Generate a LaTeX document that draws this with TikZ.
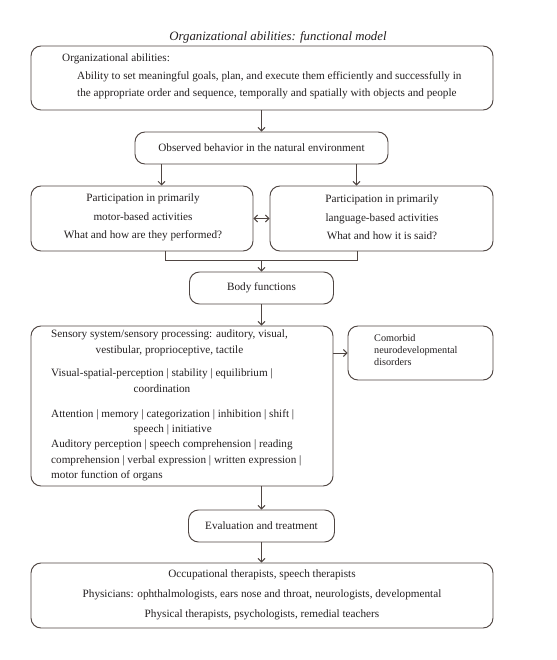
\documentclass[tikz,border=0pt]{standalone}
\usepackage{fontspec}
\setmainfont{Liberation Serif}
\usetikzlibrary{arrows.meta,calc}
\definecolor{linec}{HTML}{4F4542}
\definecolor{textc}{HTML}{231F20}
\begin{document}
\begin{tikzpicture}[x=1pt,y=-1pt,
  box/.style={draw=linec,line width=0.95pt,rounded corners=10pt,inner sep=0pt},
  txt/.style={text=textc,inner sep=0pt,font=\fontsize{11.2}{17}\selectfont},
  arr/.style={draw=linec,line width=0.95pt,-{Straight Barb[length=3.5pt,width=7pt]}},
  ln/.style={draw=linec,line width=0.95pt}]
\useasboundingbox (0,0) rectangle (556,660);
% boxes
\node[box,minimum width=462pt,minimum height=64pt] (b1) at (262,78) {};
\node[box,minimum width=253pt,minimum height=32pt] (b2) at (261.5,148) {};
\node[box,minimum width=222pt,minimum height=65pt] (b3l) at (142,218.5) {};
\node[box,minimum width=223pt,minimum height=65pt] (b3r) at (381.5,218.5) {};
\node[box,minimum width=144pt,minimum height=32pt] (b4) at (261.5,288) {};
\node[box,minimum width=302pt,minimum height=160pt] (b5) at (182,406) {};
\node[box,minimum width=145pt,minimum height=54pt] (b6) at (420.5,353) {};
\node[box,minimum width=146pt,minimum height=32pt] (b7) at (261.5,526) {};
\node[box,minimum width=462pt,minimum height=65pt] (b8) at (262,595.5) {};
% texts
\node[txt,font=\fontsize{12.8}{17}\selectfont\itshape] (title) at (278,37) {Organizational abilities: functional model};
\node[txt,anchor=west] (t1a) at (62,59) {Organizational abilities:};
\node[txt,anchor=north west,align=left] (t1b) at (77,71) {Ability to set meaningful goals, plan, and execute them efficiently and successfully in\\the appropriate order and sequence, temporally and spatially with objects and people};
\node[txt] (t2) at (261.5,148) {Observed behavior in the natural environment};
\node[txt,align=center,font=\fontsize{11.2}{18.5}\selectfont] (t3l) at (143,217.5) {Participation in primarily\\motor-based activities\\What and how are they performed?};
\node[txt,align=center,font=\fontsize{11.2}{18.5}\selectfont] (t3r) at (382,217.5) {Participation in primarily\\language-based activities\\What and how it is said?};
\node[txt] (t4) at (261.5,288) {Body functions};
\node[txt,anchor=north west,align=center,font=\fontsize{11.2}{15.5}\selectfont] (t5a) at (51,330) {Sensory system/sensory processing: auditory, visual,\\vestibular, proprioceptive, tactile};
\node[txt,anchor=north west,align=center,font=\fontsize{11.2}{15.5}\selectfont] (t5b) at (51,369) {Visual-spatial-perception \textbar{} stability \textbar{} equilibrium \textbar\\coordination};
\node[txt,anchor=north west,align=center,font=\fontsize{11.2}{15.5}\selectfont] (t5c) at (51,409) {Attention \textbar{} memory \textbar{} categorization \textbar{} inhibition \textbar{} shift \textbar\\speech \textbar{} initiative};
\node[txt,anchor=north west,align=left,font=\fontsize{11.2}{15.5}\selectfont] (t5d) at (51,440) {Auditory perception \textbar{} speech comprehension \textbar{} reading\\comprehension \textbar{} verbal expression \textbar{} written expression \textbar\\motor function of organs};
\node[txt,anchor=north west,align=left,font=\fontsize{10.2}{12}\selectfont] (t6) at (374,334) {Comorbid\\neurodevelopmental\\disorders};
\node[txt] (t7) at (261.5,526) {Evaluation and treatment};
\node[txt,align=center,font=\fontsize{11.2}{20}\selectfont] (t8) at (262,594.5) {Occupational therapists, speech therapists\\Physicians: ophthalmologists, ears nose and throat, neurologists, developmental\\Physical therapists, psychologists, remedial teachers};
% connectors
\draw[arr] (b1.south -| b2.north) -- (b2.north);
\coordinate (d1) at ([xshift=27pt]b2.south west);
\coordinate (d2) at ([xshift=-32pt]b2.south east);
\draw[arr] (d1) -- (d1 |- b3l.north);
\draw[arr] (d2) -- (d2 |- b3r.north);
\draw[{Straight Barb[length=3.5pt,width=7pt]}-{Straight Barb[length=3.5pt,width=7pt]},draw=linec,line width=0.95pt] (b3l.east) -- (b3r.west);
\coordinate (m) at ([yshift=11pt]b4.north);
\coordinate (e1) at ([xshift=23pt]b3l.south);
\coordinate (e2) at ([xshift=-24.5pt]b3r.south);
\draw[ln] (e1) -- (e1 |- m) -- (e2 |- m) -- (e2);
\draw[arr] (m) -- (b4.north);
\draw[arr] (b4.south) -- (b4.south |- b5.north);
\draw[arr] (b5.east |- b6.west) -- (b6.west);
\draw[arr] (b5.south -| b7.north) -- (b7.north);
\draw[arr] (b7.south) -- (b7.south |- b8.north);
\end{tikzpicture}
\end{document}
